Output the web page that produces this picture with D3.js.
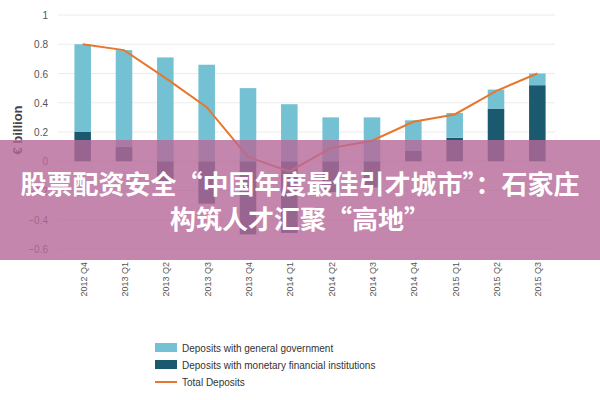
<!DOCTYPE html><html><head><meta charset="utf-8"><script src="https://cdn.jsdelivr.net/npm/d3@7"></script>
<style>body{margin:0;background:#fff}svg{font-family:"Liberation Sans",Arial,sans-serif}</style></head><body><svg id="c" width="600" height="400"></svg><script>
const categories=["2012 Q4","2013 Q1","2013 Q2","2013 Q3","2013 Q4","2014 Q1","2014 Q2","2014 Q3","2014 Q4","2015 Q1","2015 Q2","2015 Q3"];
const mfi=[0.2,0.1,-0.14,-0.29,-0.5,-0.49,-0.21,-0.18,0.07,0.16,0.36,0.52];
const gov=[0.6,0.66,0.71,0.66,0.5,0.39,0.3,0.3,0.21,0.17,0.13,0.08];
const total=[0.8,0.76,0.57,0.37,0.03,-0.07,0.09,0.14,0.27,0.32,0.48,0.6];
const yTicks=[1,0.8,0.6,0.4,0.2,0,-0.2,-0.4,-0.6];
const legendLabels=["Deposits with general government","Deposits with monetary financial institutions","Total Deposits"];
const title=["股票配资安全“中国年度最佳引才城市”：石家庄","构筑人才汇聚“高地”"];
const svg=d3.select("#c");
const x=d3.scaleBand().domain(categories).range([62,558]).paddingInner(0.6).paddingOuter(0.3);
const y=d3.scaleLinear().domain([-0.6,1]).range([249,15]);
const g=svg.append("g");
g.selectAll(".gl").data(yTicks).join("line").attr("x1",58).attr("x2",555).attr("y1",d=>y(d)).attr("y2",d=>y(d)).attr("stroke","#ececec");
g.selectAll(".yl").data(yTicks).join("text").attr("x",48).attr("y",d=>y(d)+4).attr("text-anchor","end").attr("font-size",10).attr("fill","#555").text(d=>d===0?"0":d==1?"1":d3.format(".1f")(d));
svg.append("text").attr("transform","translate(22,130) rotate(-90)").attr("text-anchor","middle").attr("font-size",13).attr("font-weight","bold").attr("fill","#444").text("€ billion");
const bw=x.bandwidth();
g.selectAll(".d").data(categories).join("rect").attr("x",d=>x(d)).attr("width",bw).attr("y",(d,i)=>y(Math.max(0,mfi[i]))).attr("height",(d,i)=>Math.abs(y(mfi[i])-y(0))).attr("fill","#1b5a6e");
g.selectAll(".l").data(categories).join("rect").attr("x",d=>x(d)).attr("width",bw).attr("y",(d,i)=>y(Math.max(0,mfi[i])+gov[i])).attr("height",(d,i)=>y(0)-y(gov[i])).attr("fill","#74c1d3");
svg.append("path").datum(total).attr("d",d3.line().x((d,i)=>x(categories[i])+bw/2).y(d=>y(d))).attr("fill","none").attr("stroke","#e8772e").attr("stroke-width",2);
g.selectAll(".xl").data(categories).join("text").attr("transform",d=>`translate(${x(d)+bw/2+4},${262}) rotate(-90)`).attr("text-anchor","end").attr("font-size",9).attr("fill","#555").text(d=>d);
const lc=["#74c1d3","#1b5a6e","#e8772e"];
legendLabels.forEach((t,i)=>{const yy=348+i*17;
 if(i<2)svg.append("rect").attr("x",155).attr("y",yy-5).attr("width",22).attr("height",9).attr("fill",lc[i]);
 else svg.append("line").attr("x1",155).attr("x2",177).attr("y1",yy).attr("y2",yy).attr("stroke",lc[i]).attr("stroke-width",2);
 svg.append("text").attr("x",182).attr("y",yy+4).attr("font-size",10).attr("fill","#333").text(t);});
svg.append("rect").attr("x",0).attr("y",140).attr("width",600).attr("height",120).attr("fill","rgb(182,104,152)").attr("opacity",0.8);
title.forEach((t,i)=>svg.append("text").attr("x",300).attr("y",194+i*35).attr("text-anchor","middle").attr("font-family","'Noto Sans CJK SC'").attr("font-weight","bold").attr("font-size",26).attr("fill","#fff").text(t));
</script></body></html>
